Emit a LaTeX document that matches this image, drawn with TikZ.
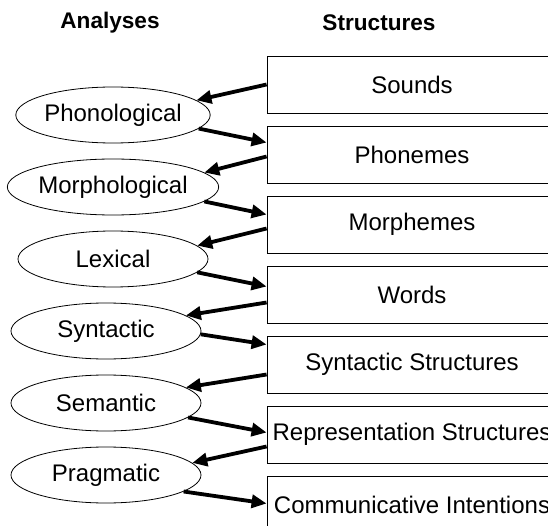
\documentclass[tikz,border=0pt]{standalone}
\usepackage{fontspec}
\setmainfont{Liberation Sans}
\usetikzlibrary{shapes,arrows.meta,positioning}

\begin{document}
\begin{tikzpicture}[x=1pt, y=1pt, node distance=70pt,
    structure/.style={draw, line width=0.8pt, rectangle, minimum width=290pt, minimum height=57pt, inner sep=0pt, font=\fontsize{24}{28}\selectfont},
    analysis/.style={draw, line width=0.8pt, ellipse, minimum width=190pt, minimum height=56pt, inner sep=0pt, font=\fontsize{24}{28}\selectfont},
    heading/.style={font=\fontsize{22.6}{27}\selectfont\bfseries},
    link/.style={line width=3.8pt, -{Triangle[length=15pt,width=13pt]}}]
    \path[use as bounding box] (0,0) rectangle (548,-526);
    \clip (0,0) rectangle (548,-526);

    % column titles
    \node[heading] (ana) at (110,-23) {Analyses};
    \node[heading] (str) at (379,-23) {Structures};

    % structures
    \node[structure] (sounds) at (412,-84.5) {Sounds};
    \node[structure, below of=sounds] (phonemes) {Phonemes};
    \node[structure, below of=phonemes] (morphemes) {Morphemes};
    \node[structure, below of=morphemes] (words) {Words};
    \node[structure, below of=words] (synstr) {Syntactic Structures};
    \node[structure, below of=synstr] (rep) {Representation Structures};
    \node[structure, below of=rep] (comm) {Communicative Intentions};

    % analyses
    \node[analysis] (phon) at (113,-115) {Phonological};
    \node[analysis, node distance=72pt, below of=phon] (morph) {Morphological};
    \node[analysis, node distance=72pt, below of=morph] (lex) {Lexical};
    \node[analysis, node distance=72pt, below of=lex, xshift=-7pt] (syn) {Syntactic};
    \node[analysis, node distance=72pt, below of=syn] (sem) {Semantic};
    \node[analysis, node distance=72pt, below of=sem] (prag) {Pragmatic};

    \draw[link] (sounds.west) -- (phon.10);
    \draw[link] (phon.-9) -- ([yshift=12pt]phonemes.west);
    \draw[link] ([yshift=-2pt]phonemes.west) -- (morph.9);
    \draw[link] (morph.-9) -- ([yshift=10pt]morphemes.west);
    \draw[link] ([yshift=-4pt]morphemes.west) -- (lex.9);
    \draw[link] (lex.-9) -- ([yshift=8pt]words.west);
    \draw[link] ([yshift=-8pt]words.west) -- (syn.11);
    \draw[link] (syn.-2) -- ([yshift=20pt]synstr.west);
    \draw[link] ([yshift=-10pt]synstr.west) -- (sem.11);
    \draw[link] (sem.-10) -- ([yshift=2pt]rep.west);
    \draw[link] ([yshift=-12pt]rep.west) -- (prag.8);
    \draw[link] (prag.-12) -- ([yshift=1pt]comm.west);
\end{tikzpicture}
\end{document}
